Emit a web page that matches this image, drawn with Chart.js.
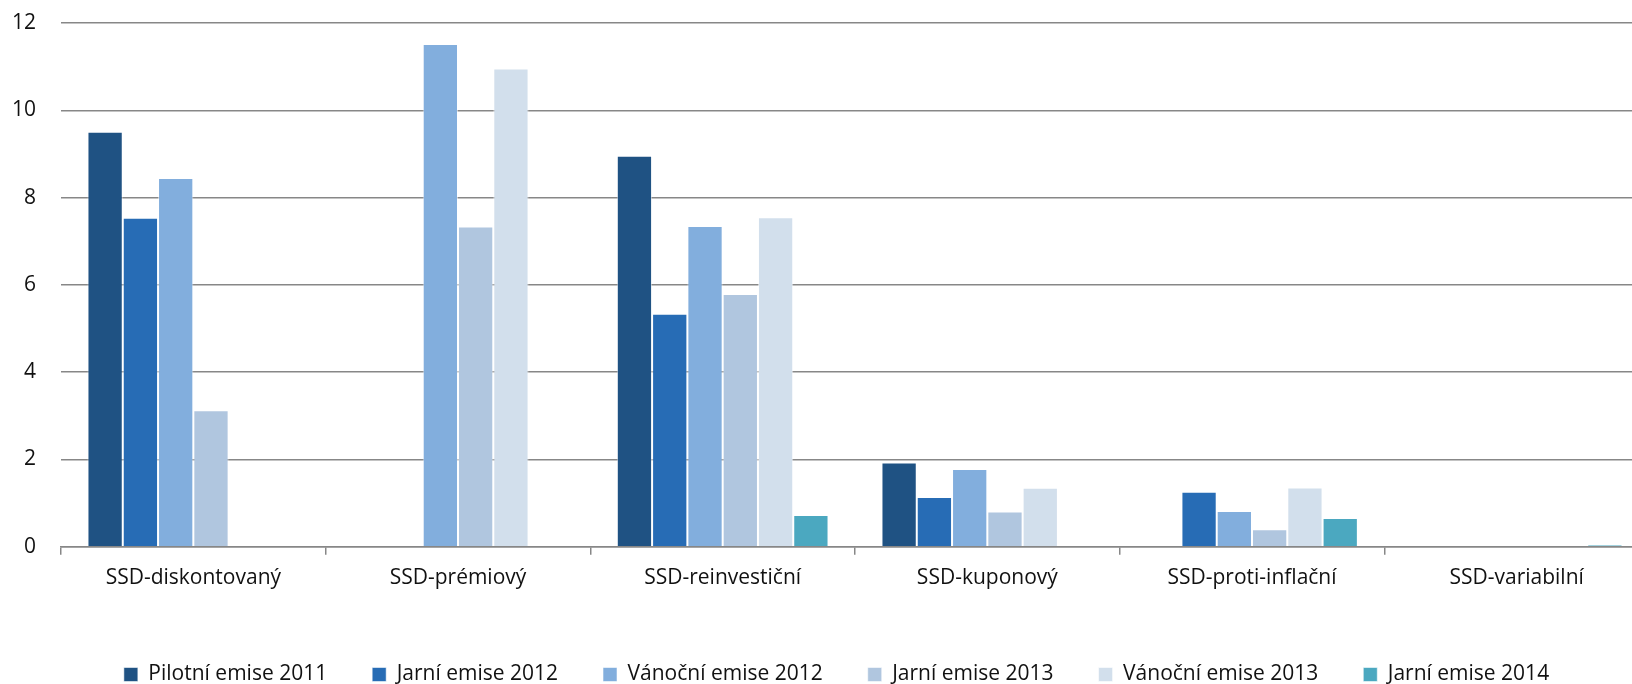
<!DOCTYPE html>
<html>
<head>
<meta charset="utf-8">
<script src="https://cdn.jsdelivr.net/npm/chart.js@4"></script>
<style>
  html, body { margin: 0; padding: 0; background: #fff; overflow: hidden; }
  #wrap { width: 1649px; height: 695px; }
</style>
</head>
<body>
<div id="wrap"><canvas id="graf"></canvas></div>
<script>
const kategorie = ['SSD-diskontovaný', 'SSD-prémiový', 'SSD-reinvestiční', 'SSD-kuponový', 'SSD-proti-inflační', 'SSD-variabilní'];
const pilotni2011 = [9.51, null, 8.96, 1.93, null, null];
const jarni2012 = [7.54, null, 5.34, 1.14, 1.26, null];
const vanocni2012 = [8.45, 11.52, 7.35, 1.78, 0.82, null];
const jarni2013 = [3.13, 7.34, 5.79, 0.81, 0.40, null];
const vanocni2013 = [null, 10.96, 7.55, 1.35, 1.36, null];
const jarni2014 = [null, null, 0.73, null, 0.66, 0.04];
const osaY = [0, 2, 4, 6, 8, 10, 12];

const pismo = { family: "'Open Sans', sans-serif", size: 21 };
const sada = (label, data, barva) => ({
  label: label,
  data: data,
  backgroundColor: barva,
  borderColor: 'rgba(255, 255, 255, 0.55)',
  borderWidth: 1
});

// legenda je v originale posunuta trochu doprava
const posunLegendy = {
  id: 'posunLegendy',
  beforeDraw(chart) {
    if (chart.legend && !chart.legend._posunuto) {
      chart.legend.left += 24;
      chart.legend._posunuto = true;
    }
  }
};

const ctx = document.getElementById('graf').getContext('2d');

new Chart(ctx, {
  type: 'bar',
  data: {
    labels: kategorie,
    datasets: [
      sada('Pilotní emise 2011', pilotni2011, '#1f5283'),
      sada('Jarní emise 2012', jarni2012, '#276cb5'),
      sada('Vánoční emise 2012', vanocni2012, '#82aedd'),
      sada('Jarní emise 2013', jarni2013, '#b0c6df'),
      sada('Vánoční emise 2013', vanocni2013, '#d2dfec'),
      sada('Jarní emise 2014', jarni2014, '#4ba8c0')
    ]
  },
  plugins: [posunLegendy],
  options: {
    responsive: true,
    maintainAspectRatio: false,
    animation: false,
    layout: { padding: 0 },
    datasets: { bar: { categoryPercentage: 0.8, barPercentage: 1 } },
    plugins: {
      legend: {
        position: 'bottom',
        labels: {
          color: '#111',
          font: pismo,
          boxWidth: 14,
          boxHeight: 14,
          padding: 45
        }
      },
      tooltip: { enabled: false }
    },
    scales: {
      x: {
        afterFit: (osa) => { osa.height += 17; },
        grid: {
          offset: true,
          drawOnChartArea: false,
          drawTicks: true,
          tickLength: 8,
          color: '#878787',
          lineWidth: 1.5
        },
        border: { display: true, color: '#878787', width: 1.5 },
        ticks: { color: '#111', font: pismo, padding: 11, maxRotation: 0 }
      },
      y: {
        min: 0,
        max: 12,
        afterBuildTicks: (osa) => { osa.ticks = osaY.map(v => ({ value: v })); },
        afterFit: (osa) => {
          osa.width = 61;
          osa.paddingTop = 23;
          osa.paddingBottom = 0;
        },
        grid: { drawTicks: false, color: '#878787', lineWidth: 1.5 },
        border: { display: false },
        ticks: { color: '#111', font: pismo, padding: 25 }
      }
    }
  }
});
</script>
</body>
</html>
